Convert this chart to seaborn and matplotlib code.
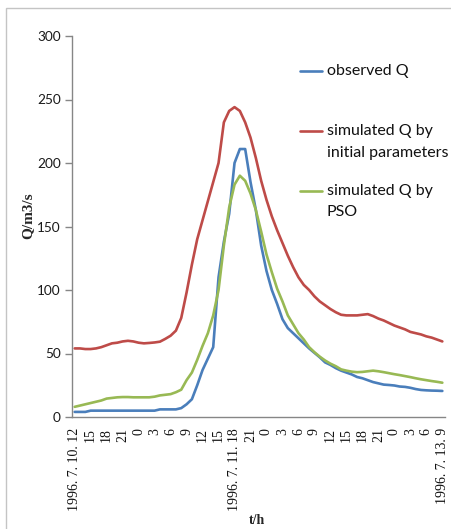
import numpy as np
import pandas as pd
import matplotlib
matplotlib.use("Agg")
import matplotlib.pyplot as plt
import seaborn as sns
from matplotlib.lines import Line2D
from matplotlib.patches import Rectangle

# ---- data (hourly, 1996-07-10 12h to 1996-07-13 9h) ----
observed = [4, 4, 4, 5, 5, 5, 5, 5, 5, 5,
            5, 5, 5, 5, 5, 5, 6, 6, 6, 6,
            7, 10, 14, 25, 37, 46, 55, 110, 138, 160,
            200, 211, 211, 185, 163, 135, 115, 100, 89, 77,
            70, 66, 62, 58, 54, 50.5, 47, 43, 41, 38.5,
            36.5, 35, 33.5, 31.5, 30.5, 29, 27.5, 26.5, 25.5, 25.2,
            24.8, 24, 23.7, 23, 22, 21.3, 21, 20.8, 20.7, 20.5]
initial = [54, 54, 53.5, 53.5, 54, 55, 56.5, 58, 58.5, 59.5,
           60, 59.5, 58.5, 58, 58.3, 58.7, 59.3, 61.5, 64, 68,
           78, 98, 120, 140, 155, 170, 185, 200, 232, 241,
           244, 241, 232, 220, 204, 186, 171, 158, 147, 137,
           127, 118, 110, 104, 100, 95, 91, 88, 85, 82.5,
           80.5, 80, 80, 80, 80.5, 81, 79.5, 77.5, 76, 74,
           72, 70.5, 69, 67, 66, 65, 63.5, 62.5, 61, 59.5]
pso = [8, 9, 10, 11, 12, 13, 14.5, 15, 15.5, 15.7,
       15.7, 15.5, 15.5, 15.5, 15.5, 16, 17, 17.5, 18, 19.5,
       21.5, 29, 35, 45, 56, 66, 80, 100, 135, 165,
       183, 190, 186, 176, 163, 146, 128, 114, 101, 91,
       80, 73, 66, 61, 55, 51, 47.5, 44.5, 42, 40,
       37.5, 36.5, 35.7, 35.3, 35.5, 36, 36.5, 36, 35.3, 34.5,
       33.7, 33, 32.2, 31.4, 30.5, 29.7, 29, 28.3, 27.7, 27]
tick_labels = ["1996. 7. 10. 12", "15", "18", "21", "0", "3", "6", "9", "12", "15",
               "1996. 7. 11. 18", "21", "0", "3", "6", "9", "12", "15", "18", "21",
               "0", "3", "6", "1996. 7. 13. 9"]
series_names = ["observed Q", "simulated Q by\ninitial parameters", "simulated Q by\nPSO"]
colors = ["#4A7EBB", "#BE4B48", "#98B954"]
y_ticks = [0, 50, 100, 150, 200, 250, 300]

hours = np.arange(len(observed))
df = pd.concat([
    pd.DataFrame({"hour": hours, "Q": vals, "series": name})
    for vals, name in zip([observed, initial, pso], series_names)
], ignore_index=True)

sns.set_style("white")
W, H = 452, 529
fig = plt.figure(figsize=(W / 100, H / 100), dpi=100)
fx = lambda px: px / W
fy = lambda py: 1 - py / H

ax = fig.add_axes([fx(72), fy(417), fx(445) - fx(72), fy(36) - fy(417)])
sns.lineplot(data=df, x="hour", y="Q", hue="series", hue_order=series_names,
             palette=colors, estimator=None, sort=False, linewidth=1.9,
             legend=False, ax=ax)

ax.set_xlim(-0.5, len(observed) - 0.5)
ax.set_ylim(0, 300)
ax.set_xticks(hours[::3])
ax.set_xticklabels(tick_labels, rotation=90, family="Liberation Serif",
                   fontsize=10, color="#111111", va="top", ha="center")
ax.set_yticks(y_ticks)
ax.set_yticklabels([str(v) for v in y_ticks], family="Lato", fontsize=9.8,
                   color="#1a1a1a")
ax.tick_params(axis="x", length=0, pad=8)
ax.tick_params(axis="y", length=5, width=1, color="#868686", pad=3, left=True)
ax.set_xlabel("")
ax.set_ylabel("")
for s in ["top", "right"]:
    ax.spines[s].set_visible(False)
for s in ["left", "bottom"]:
    ax.spines[s].set_color("#868686")
    ax.spines[s].set_linewidth(1)

fig.text(fx(28), fy(216), "Q/m3/s", rotation=90, ha="center", va="center",
         family="Liberation Serif", fontweight="bold", fontsize=11)
fig.text(fx(257), fy(521), "t/h", ha="center", va="center",
         family="Liberation Serif", fontweight="bold", fontsize=10)

# legend
entry_y = [71, 131, 191]
for name, col, y0 in zip(series_names, colors, entry_y):
    fig.add_artist(Line2D([fx(300), fx(322)], [fy(y0), fy(y0)], color=col,
                          linewidth=1.9, transform=fig.transFigure))
    for i, line in enumerate(name.split("\n")):
        fig.text(fx(327), fy(y0 + 21.5 * i), line, ha="left", va="center",
                 family="Lato", fontsize=11.5, color="#111111")

# outer frame
fig.add_artist(Rectangle((fx(6), -0.2), 2, fy(8) + 0.2, fill=False,
                         edgecolor="#c4c4c4", linewidth=1,
                         transform=fig.transFigure))

fig.savefig("out.png", dpi=100)
